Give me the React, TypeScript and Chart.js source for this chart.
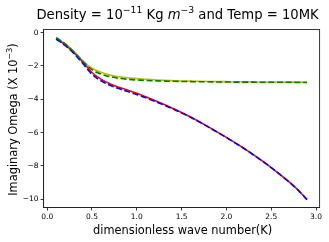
import { useEffect, useRef } from "react";
import { Chart, registerables } from "chart.js";

Chart.register(...registerables);

const kValues = [0.1, 0.2, 0.3, 0.4, 0.5, 0.6, 0.7, 0.8, 0.9, 1.0, 1.1, 1.2, 1.3, 1.4, 1.5, 1.6, 1.7, 1.8, 1.9, 2.0, 2.1, 2.2, 2.3, 2.4, 2.5, 2.6, 2.7, 2.8, 2.9];
const redSolid = [-0.36, -0.74, -1.21, -1.78, -2.39, -2.79, -3.07, -3.28, -3.46, -3.64, -3.85, -4.07, -4.30, -4.54, -4.79, -5.06, -5.35, -5.66, -5.97, -6.29, -6.62, -6.96, -7.32, -7.70, -8.10, -8.52, -8.96, -9.45, -10.02];
const blueDashed = [-0.38, -0.77, -1.26, -1.87, -2.50, -2.89, -3.16, -3.36, -3.54, -3.72, -3.91, -4.12, -4.34, -4.57, -4.82, -5.08, -5.37, -5.67, -5.98, -6.30, -6.63, -6.97, -7.33, -7.71, -8.11, -8.53, -8.97, -9.46, -10.03];
const yellowSolid = [-0.30, -0.66, -1.14, -1.70, -2.13, -2.38, -2.55, -2.65, -2.71, -2.76, -2.80, -2.83, -2.86, -2.88, -2.90, -2.91, -2.92, -2.93, -2.94, -2.94, -2.95, -2.95, -2.96, -2.96, -2.96, -2.97, -2.97, -2.97, -2.97];
const greenDashed = [-0.30, -0.67, -1.16, -1.74, -2.22, -2.49, -2.64, -2.74, -2.80, -2.84, -2.87, -2.89, -2.91, -2.92, -2.93, -2.94, -2.95, -2.95, -2.96, -2.96, -2.97, -2.97, -2.97, -2.98, -2.98, -2.98, -2.98, -2.99, -2.99];

const xTicks = [0, 0.5, 1.0, 1.5, 2.0, 2.5, 3.0];
const yTicks = [0, -2, -4, -6, -8, -10];

type Run = { text: string; sup?: boolean; italic?: boolean };
const titleRuns: Run[] = [
  { text: "Density = 10" },
  { text: "\u221211", sup: true },
  { text: " Kg " },
  { text: "m", italic: true },
  { text: "\u22123", sup: true },
  { text: " and Temp = 10MK" },
];
const yLabelRuns: Run[] = [
  { text: "Imaginary Omega (X 10" },
  { text: "\u22123", sup: true },
  { text: ")" },
];
const xLabelRuns: Run[] = [{ text: "dimensionless wave number(K)" }];

const FONT = "'DejaVu Sans', sans-serif";

function fontFor(r: Run, size: number) {
  const s = r.sup ? size * 0.7 : size;
  return `${r.italic ? "italic " : ""}${s}px ${FONT}`;
}

function drawRuns(ctx: CanvasRenderingContext2D, runs: Run[], cx: number, cy: number, size: number, angle: number) {
  ctx.save();
  ctx.translate(cx, cy);
  ctx.rotate(angle);
  ctx.fillStyle = "#000";
  ctx.textBaseline = "alphabetic";
  ctx.textAlign = "left";
  let total = 0;
  const widths = runs.map((r) => {
    ctx.font = fontFor(r, size);
    const w = ctx.measureText(r.text).width;
    total += w;
    return w;
  });
  let x = -total / 2;
  const base = size * 0.36;
  runs.forEach((r, i) => {
    ctx.font = fontFor(r, size);
    ctx.fillText(r.text, x, r.sup ? base - size * 0.42 : base);
    x += widths[i];
  });
  ctx.restore();
}

const decorPlugin = {
  id: "decor",
  afterDraw(chart: any) {
    const { ctx, chartArea } = chart;
    const { left, right, top, bottom } = chartArea;
    ctx.save();
    ctx.strokeStyle = "#222";
    ctx.lineWidth = 0.9;
    ctx.strokeRect(left, top, right - left, bottom - top);
    ctx.restore();
    const cx = (left + right) / 2;
    drawRuns(ctx, titleRuns, cx - 4, 14, 13.2, 0);
    drawRuns(ctx, xLabelRuns, cx + 1, 230, 11.4, 0);
    drawRuns(ctx, yLabelRuns, 12.5, (top + bottom) / 2 + 1, 11.4, -Math.PI / 2);
  },
};

export default function App() {
  const ref = useRef<HTMLCanvasElement | null>(null);
  useEffect(() => {
    if (!ref.current) return;
    const mk = (vals: number[]) => kValues.map((k, i) => ({ x: k, y: vals[i] }));
    const chart = new Chart(ref.current, {
      type: "line",
      data: {
        datasets: [
          { data: mk(redSolid), borderColor: "#ff0000", borderWidth: 1.6, pointRadius: 0, order: 2, cubicInterpolationMode: "monotone" },
          { data: mk(yellowSolid), borderColor: "#bfbf00", borderWidth: 1.6, pointRadius: 0, order: 2, cubicInterpolationMode: "monotone" },
          { data: mk(blueDashed), borderColor: "#0000ff", borderWidth: 1.6, borderDash: [6, 2.7], pointRadius: 0, order: 1, cubicInterpolationMode: "monotone" },
          { data: mk(greenDashed), borderColor: "#008000", borderWidth: 1.6, borderDash: [6, 2.7], pointRadius: 0, order: 0, cubicInterpolationMode: "monotone" },
        ],
      } as any,
      options: {
        animation: false,
        responsive: false,
        layout: { padding: { top: 29.5, right: 9.4, left: 0, bottom: 0 } },
        plugins: { legend: { display: false }, tooltip: { enabled: false }, title: { display: false } },
        scales: {
          x: {
            type: "linear",
            min: -0.04,
            max: 3.04,
            afterBuildTicks: (s: any) => { s.ticks = xTicks.map((v) => ({ value: v })); },
            afterFit: (s: any) => { s.height = 34.5; },
            grid: { drawOnChartArea: false, drawTicks: true, tickLength: 3, color: "#222", lineWidth: 0.9 },
            border: { display: true, color: "#222", width: 0.9 },
            ticks: { color: "#000", padding: 2, maxRotation: 0, autoSkip: false, font: { family: FONT, size: 7.5 }, callback: (v: any) => Number(v).toFixed(1) },
          },
          y: {
            type: "linear",
            min: -10.5,
            max: 0.19,
            afterBuildTicks: (s: any) => { s.ticks = yTicks.map((v) => ({ value: v })); },
            afterFit: (s: any) => { s.width = 43.6; },
            grid: { drawOnChartArea: false, drawTicks: true, tickLength: 3, color: "#222", lineWidth: 0.9 },
            border: { display: true, color: "#222", width: 0.9 },
            ticks: { color: "#000", padding: 2, autoSkip: false, font: { family: FONT, size: 7.5 }, callback: (v: any) => String(v).replace("-", "\u2212") },
          },
        },
      } as any,
      plugins: [decorPlugin],
    });
    return () => chart.destroy();
  }, []);
  return (
    <div style={{ position: "fixed", left: 0, top: 0, width: 329, height: 242, background: "#fff" }}>
      <canvas ref={ref} width={329} height={242} style={{ width: 329, height: 242 }} />
    </div>
  );
}
